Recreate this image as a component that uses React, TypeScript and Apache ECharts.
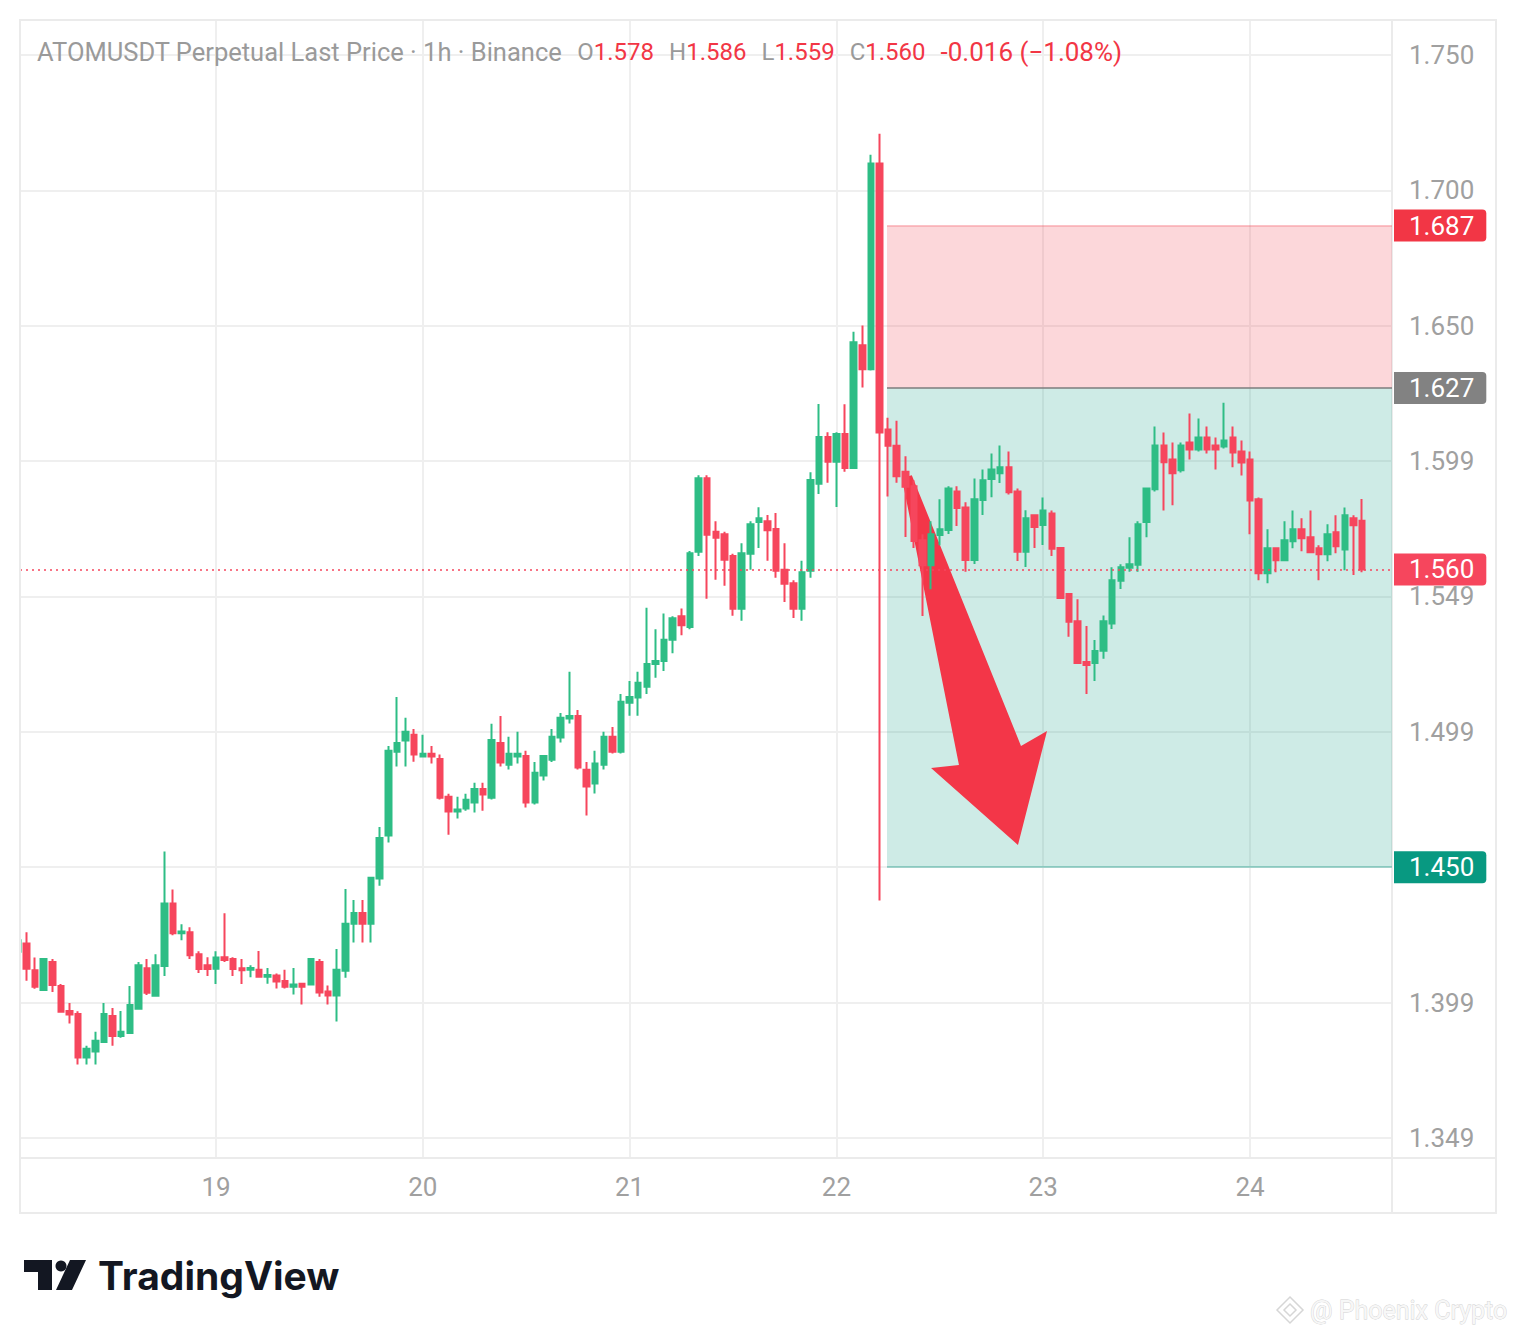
import React, { useEffect, useRef } from 'react';
import * as echarts from 'echarts';

// hour offset (relative to the 19th, 00:00) of the first candle
const START_HOUR = -23;

const opens = [
  1.4188, 1.4218, 1.4120, 1.4047, 1.4150, 1.4061, 1.3969, 1.3958, 1.3797, 1.3819, 1.3855, 1.3951, 1.3877, 1.3888, 1.3977, 1.4127, 1.4025, 1.4135, 1.4366, 1.4256, 1.4260, 1.4179, 1.4138,
  1.4125, 1.4168, 1.4161, 1.4127, 1.4121, 1.4121, 1.4096, 1.4100, 1.4080, 1.4059, 1.4070, 1.4067, 1.4150, 1.4041, 1.4026, 1.4118, 1.4291, 1.4331, 1.4291, 1.4458, 1.4617, 1.4927, 1.4968, 1.4989,
  1.4909, 1.4919, 1.4900, 1.4760, 1.4706, 1.4717, 1.4739, 1.4789, 1.4757, 1.4959, 1.4879, 1.4909, 1.4911, 1.4739, 1.4839, 1.4897, 1.4979, 1.5049, 1.5059, 1.4860, 1.4809, 1.4879, 1.4982, 1.4927,
  1.5108, 1.5127, 1.5167, 1.5251, 1.5262, 1.5340, 1.5427, 1.5387, 1.5665, 1.5937, 1.5739, 1.5730, 1.5650, 1.5455, 1.5658, 1.5775, 1.5778, 1.5749, 1.5599, 1.5549, 1.5455, 1.5595, 1.5916, 1.6089,
  1.5998, 1.6100, 1.5975, 1.6428, 1.6339, 1.7099, 1.6117, 1.6057, 1.5961, 1.5907, 1.5708, 1.5615, 1.5727, 1.5746, 1.5888, 1.5829, 1.5635, 1.5856, 1.5934, 1.5955, 1.5977, 1.5888, 1.5665, 1.5800,
  1.5764, 1.5807, 1.5679, 1.5509, 1.5409, 1.5258, 1.5254, 1.5300, 1.5400, 1.5558, 1.5606, 1.5617, 1.5775, 1.5896, 1.6058, 1.6006, 1.5966, 1.6069, 1.6043, 1.6087, 1.6058, 1.6054, 1.6087, 1.6036,
  1.6006, 1.5859, 1.5586, 1.5678, 1.5634, 1.5704, 1.5748, 1.5719, 1.5678, 1.5656, 1.5737, 1.5674, 1.5789, 1.578
];
const closes = [
  1.4230, 1.4125, 1.4059, 1.4161, 1.4065, 1.3966, 1.3956, 1.3797, 1.3830, 1.3859, 1.3958, 1.3877, 1.3892, 1.3991, 1.4138, 1.4036, 1.4138, 1.4366, 1.4256, 1.4263, 1.4175, 1.4124, 1.4124,
  1.4167, 1.4157, 1.4124, 1.4120, 1.4128, 1.4096, 1.4102, 1.4078, 1.4059, 1.4067, 1.4059, 1.4161, 1.4037, 1.4026, 1.4121, 1.4291, 1.4331, 1.4291, 1.4461, 1.4608, 1.4930, 1.4959, 1.5000, 1.4916,
  1.4919, 1.4909, 1.4757, 1.4706, 1.4713, 1.4749, 1.4789, 1.4769, 1.4970, 1.4887, 1.4919, 1.4919, 1.4739, 1.4849, 1.4911, 1.4982, 1.5052, 1.5059, 1.4868, 1.4798, 1.4883, 1.4982, 1.4927, 1.5111,
  1.5129, 1.5181, 1.5251, 1.5262, 1.5340, 1.5420, 1.5394, 1.5660, 1.5937, 1.5728, 1.5717, 1.5636, 1.5455, 1.5660, 1.5767, 1.5789, 1.5745, 1.5595, 1.5547, 1.5455, 1.5590, 1.5930, 1.6089, 1.5998,
  1.6100, 1.5975, 1.6439, 1.6339, 1.7099, 1.6106, 1.6057, 1.5944, 1.5905, 1.5705, 1.5615, 1.5730, 1.5748, 1.5899, 1.5827, 1.5635, 1.5859, 1.5929, 1.5969, 1.5977, 1.5885, 1.5665, 1.5789, 1.5757,
  1.5818, 1.5676, 1.5494, 1.5407, 1.5254, 1.5247, 1.5299, 1.5409, 1.5560, 1.5608, 1.5619, 1.5767, 1.5899, 1.6058, 1.5996, 1.5955, 1.6058, 1.6043, 1.6087, 1.6043, 1.6043, 1.6076, 1.6032, 1.5995,
  1.5855, 1.5586, 1.5678, 1.5634, 1.5708, 1.5748, 1.5715, 1.5663, 1.5656, 1.5730, 1.5686, 1.5800, 1.5763, 1.560
];
const lows = [
  1.4180, 1.4081, 1.4051, 1.4045, 1.4039, 1.3964, 1.3923, 1.3771, 1.3771, 1.3771, 1.3853, 1.3841, 1.3870, 1.3886, 1.3975, 1.4028, 1.4025, 1.4098, 1.4249, 1.4230, 1.4161, 1.4109, 1.4098,
  1.4069, 1.4150, 1.4098, 1.4069, 1.4094, 1.4092, 1.4070, 1.4052, 1.4052, 1.4030, 1.3993, 1.4063, 1.4022, 1.3993, 1.3930, 1.4092, 1.4222, 1.4222, 1.4222, 1.4432, 1.4591, 1.4872, 1.4872, 1.4890,
  1.4909, 1.4883, 1.4750, 1.4620, 1.4680, 1.4709, 1.4702, 1.4709, 1.4750, 1.4872, 1.4861, 1.4883, 1.4721, 1.4732, 1.4820, 1.4889, 1.4961, 1.5031, 1.4861, 1.4691, 1.4772, 1.4861, 1.4920, 1.4920,
  1.5060, 1.5060, 1.5140, 1.5200, 1.5225, 1.5290, 1.5357, 1.5379, 1.5650, 1.5492, 1.5562, 1.5540, 1.5429, 1.5410, 1.5599, 1.5679, 1.5632, 1.5569, 1.5480, 1.5421, 1.5410, 1.5569, 1.5879, 1.5920,
  1.5831, 1.5961, 1.5973, 1.6272, 1.6335, 1.4377, 1.5869, 1.5920, 1.5720, 1.5679, 1.5428, 1.5527, 1.5689, 1.5731, 1.5760, 1.5591, 1.5620, 1.5801, 1.5867, 1.5919, 1.5877, 1.5631, 1.5609, 1.5679,
  1.5690, 1.5650, 1.5492, 1.5351, 1.5251, 1.5140, 1.5188, 1.5270, 1.5380, 1.5528, 1.5591, 1.5591, 1.5719, 1.5888, 1.5818, 1.5837, 1.5958, 1.6006, 1.6036, 1.6028, 1.5969, 1.6047, 1.5977, 1.5947,
  1.5730, 1.5560, 1.5549, 1.5590, 1.5630, 1.5678, 1.5667, 1.5661, 1.5560, 1.5630, 1.5660, 1.5597, 1.5579, 1.559
];
const highs = [
  1.4235, 1.4260, 1.4167, 1.4163, 1.4161, 1.4069, 1.3999, 1.3968, 1.3841, 1.3892, 1.3999, 1.3980, 1.3969, 1.4061, 1.4150, 1.4161, 1.4179, 1.4558, 1.4418, 1.4289, 1.4278, 1.4190, 1.4168,
  1.4190, 1.4330, 1.4168, 1.4161, 1.4138, 1.4191, 1.4128, 1.4108, 1.4121, 1.4128, 1.4072, 1.4163, 1.4161, 1.4063, 1.4198, 1.4420, 1.4379, 1.4379, 1.4465, 1.4649, 1.4948, 1.5129, 1.5052, 1.5011,
  1.4989, 1.4948, 1.4916, 1.4771, 1.4760, 1.4771, 1.4812, 1.4812, 1.5030, 1.5059, 1.4982, 1.5000, 1.4930, 1.4889, 1.4913, 1.5011, 1.5070, 1.5222, 1.5081, 1.4889, 1.4930, 1.5000, 1.5018, 1.5140,
  1.5188, 1.5222, 1.5458, 1.5379, 1.5437, 1.5427, 1.5456, 1.5668, 1.5948, 1.5948, 1.5778, 1.5739, 1.5658, 1.5697, 1.5778, 1.5830, 1.5801, 1.5808, 1.5697, 1.5560, 1.5632, 1.5959, 1.6211, 1.6107,
  1.6107, 1.6210, 1.6478, 1.6501, 1.7132, 1.7209, 1.6160, 1.6149, 1.6018, 1.5929, 1.5730, 1.5778, 1.5859, 1.5907, 1.5907, 1.5848, 1.5936, 1.5969, 1.6028, 1.6058, 1.6036, 1.5899, 1.5819, 1.5802,
  1.5866, 1.5818, 1.5681, 1.5512, 1.5490, 1.5391, 1.5339, 1.5430, 1.5608, 1.5619, 1.5719, 1.5778, 1.5901, 1.6128, 1.6106, 1.6069, 1.6069, 1.6176, 1.6157, 1.6128, 1.6087, 1.6216, 1.6128, 1.6076,
  1.6036, 1.5866, 1.5748, 1.5680, 1.5778, 1.5818, 1.5789, 1.5818, 1.5689, 1.5767, 1.5800, 1.5829, 1.5800, 1.586
];

const dayTicks = [0, 24, 48, 72, 96, 120];
const dayLabels = ['19', '20', '21', '22', '23', '24'];
const priceTicks = [1.35, 1.4, 1.45, 1.5, 1.55, 1.6, 1.65, 1.7, 1.75];
const priceLabels = ['1.349', '1.399', '1.450', '1.499', '1.549', '1.599', '1.650', '1.700', '1.750'];

// short position drawing
const stopPrice = 1.687;
const entryPrice = 1.627;
const targetPrice = 1.45;
const lastPrice = 1.56;
const positionStartHour = 77.87;

// arrow drawing (hour, price)
const arrowHours = [79.6, 80.75, 93.42, 96.44, 93.07, 82.98, 86.22];
const arrowPrices = [1.5938, 1.5948, 1.4948, 1.5003, 1.4582, 1.4867, 1.4878];

const headerSymbol = 'ATOMUSDT Perpetual Last Price · 1h · Binance';
const headerChange = '-0.016 (−1.08%)';

const X_MIN = -22.746;
const X_MAX = 136.475;
const Y_MIN = 1.34261;
const Y_MAX = 1.76293;

const FONT = 'Roboto, "Noto Sans", sans-serif';
const AXIS_TEXT = '#a0a0a0';
const GRID = '#efefef';
const FRAME = '#ebebeb';
const UP = '#2EBD85';
const DOWN = '#F6465D';

function badge(bg: string, text: string) {
  return {
    show: true,
    position: 'end',
    distance: 2,
    formatter: text,
    color: '#ffffff',
    backgroundColor: bg,
    padding: [3, 12, 3, 15],
    borderRadius: [0, 4, 4, 0],
    fontSize: 26,
    lineHeight: 26,
    fontFamily: FONT,
  };
}

export default function App() {
  const ref = useRef<HTMLDivElement>(null);

  useEffect(() => {
    if (!ref.current) return;
    const chart = echarts.init(ref.current, null, { renderer: 'svg' });

    const candles = opens.map((o, i) => [START_HOUR + i, o, closes[i], lows[i], highs[i]]);
    const n = opens.length;
    const f3 = (v: number) => v.toFixed(3);

    const headerText =
      `{g|${headerSymbol}}{sp| }{k|O}{r|${f3(opens[n - 1])}}{sp| }{k|H}{r|${f3(highs[n - 1])}}` +
      `{sp| }{k|L}{r|${f3(lows[n - 1])}}{sp| }{k|C}{r|${f3(closes[n - 1])}}{sp| }{c|${headerChange}}`;

    const option: any = {
      animation: false,
      backgroundColor: '#ffffff',
      grid: { left: 20, right: 124, top: 20, bottom: 176, containLabel: false },
      xAxis: {
        type: 'value',
        min: X_MIN,
        max: X_MAX,
        axisLine: { show: false },
        axisTick: { show: false, customValues: dayTicks },
        axisLabel: {
          customValues: dayTicks,
          formatter: (v: number) => dayLabels[dayTicks.indexOf(Math.round(v))],
          color: AXIS_TEXT,
          fontSize: 26,
          fontFamily: FONT,
          margin: 16,
        },
        splitLine: { show: true, lineStyle: { color: GRID, width: 2 } },
      },
      yAxis: {
        type: 'value',
        position: 'right',
        min: Y_MIN,
        max: Y_MAX,
        axisLine: { show: false },
        axisTick: { show: false, customValues: priceTicks },
        axisLabel: {
          customValues: priceTicks,
          formatter: (v: number) => {
            const i = priceTicks.findIndex((t) => Math.abs(t - v) < 1e-6);
            return i >= 0 ? priceLabels[i] : '';
          },
          color: AXIS_TEXT,
          fontSize: 26,
          fontFamily: FONT,
          margin: 17,
        },
        splitLine: { show: true, lineStyle: { color: GRID, width: 2 } },
      },
      graphic: [
        // white cover left of the plot (hides the part of the first candle outside the pane)
        { type: 'rect', z: 100, silent: true, shape: { x: 0, y: 20, width: 20, height: 1140 }, style: { fill: '#ffffff' } },
        {
          type: 'rect',
          z: 101,
          silent: true,
          shape: { x: 20, y: 20, width: 1476, height: 1193 },
          style: { fill: 'none', stroke: FRAME, lineWidth: 2 },
        },
        { type: 'line', z: 101, silent: true, shape: { x1: 20, y1: 1158, x2: 1496, y2: 1158 }, style: { stroke: FRAME, lineWidth: 2 } },
        { type: 'line', z: 1, silent: true, shape: { x1: 1392, y1: 20, x2: 1392, y2: 1213 }, style: { stroke: FRAME, lineWidth: 2 } },
        {
          type: 'text',
          x: 37,
          y: 52,
          z: 10,
          style: {
            text: headerText,
            verticalAlign: 'middle',
            align: 'left',
            rich: {
              g: { fill: '#9a9a9a', fontSize: 25.5, fontFamily: FONT },
              k: { fill: '#9a9a9a', fontSize: 24, fontFamily: FONT },
              r: { fill: '#F23645', fontSize: 24, fontFamily: FONT },
              c: { fill: '#F23645', fontSize: 26, fontFamily: FONT },
              sp: { width: 15, fontSize: 24, fontFamily: FONT },
            },
          },
        },
        // TradingView logo
        {
          type: 'group',
          children: [
            { type: 'rect', shape: { x: 24, y: 1260, width: 28, height: 12 }, style: { fill: '#131722' } },
            { type: 'rect', shape: { x: 38, y: 1260, width: 14, height: 30 }, style: { fill: '#131722' } },
            { type: 'circle', shape: { cx: 61, cy: 1266, r: 5.5 }, style: { fill: '#131722' } },
            { type: 'polygon', shape: { points: [[70, 1260], [86, 1260], [72, 1290], [56, 1290]] }, style: { fill: '#131722' } },
            {
              type: 'text',
              x: 98,
              y: 1275,
              style: { text: 'TradingView', fill: '#131722', font: 'bold 39px Inter, Roboto, sans-serif', verticalAlign: 'middle' },
            },
          ],
        },
        // watermark
        {
          type: 'group',
          children: [
            { type: 'polygon', shape: { points: [[1290, 1297], [1303, 1310], [1290, 1323], [1277, 1310]] }, style: { fill: 'none', stroke: '#d6d6d6', lineWidth: 1.5 } },
            { type: 'polygon', shape: { points: [[1290, 1304], [1296, 1310], [1290, 1316], [1284, 1310]] }, style: { fill: 'none', stroke: '#d6d6d6', lineWidth: 1.5 } },
            {
              type: 'text',
              x: 1310,
              y: 1310,
              style: {
                text: '@ Phoenix Crypto',
                fill: '#f7f7f7',
                stroke: '#d0d0d0',
                lineWidth: 0.8,
                font: '25px Roboto, sans-serif',
                verticalAlign: 'middle',
              },
            },
          ],
        },
      ],
      series: [
        {
          name: 'position',
          type: 'line',
          data: [],
          z: 1,
          silent: true,
          markArea: {
            silent: true,
            label: { show: false },
            data: [
              [
                { coord: [positionStartHour, stopPrice], itemStyle: { color: 'rgba(242,54,69,0.2)' } },
                { coord: [X_MAX, entryPrice] },
              ],
              [
                { coord: [positionStartHour, entryPrice], itemStyle: { color: 'rgba(8,153,129,0.2)' } },
                { coord: [X_MAX, targetPrice] },
              ],
            ],
          },
          markLine: {
            silent: true,
            symbol: ['none', 'none'],
            data: [
              [
                { coord: [positionStartHour, stopPrice], lineStyle: { color: 'rgba(242,54,69,0.3)', width: 1.5, type: 'solid' }, label: badge('#F23645', f3(stopPrice)) },
                { coord: [X_MAX, stopPrice] },
              ],
              [
                { coord: [positionStartHour, entryPrice], lineStyle: { color: '#7d7d7d', width: 1.5, type: 'solid' }, label: badge('#828282', f3(entryPrice)) },
                { coord: [X_MAX, entryPrice] },
              ],
              [
                { coord: [positionStartHour, targetPrice], lineStyle: { color: 'rgba(8,153,129,0.4)', width: 1.5, type: 'solid' }, label: badge('#089981', f3(targetPrice)) },
                { coord: [X_MAX, targetPrice] },
              ],
            ],
          },
        },
        {
          name: 'arrow',
          type: 'custom',
          z: 2,
          silent: true,
          data: [[arrowHours[0], arrowPrices[0]]],
          renderItem: (_params: any, api: any) => ({
            type: 'polygon',
            shape: { points: arrowHours.map((h, i) => api.coord([h, arrowPrices[i]])) },
            style: { fill: '#F33648' },
          }),
        },
        {
          name: 'ATOMUSDT',
          type: 'candlestick',
          z: 3,
          data: candles,
          barWidth: 6,
          itemStyle: {
            color: UP,
            color0: DOWN,
            borderColor: UP,
            borderColor0: DOWN,
            borderWidth: 2,
          },
        },
        {
          name: 'last',
          type: 'line',
          data: [],
          z: 5,
          silent: true,
          markLine: {
            silent: true,
            symbol: ['none', 'none'],
            data: [
              [
                { coord: [X_MIN, lastPrice], lineStyle: { color: DOWN, width: 1.5, type: [2, 4] }, label: badge('#F6465D', f3(lastPrice)) },
                { coord: [X_MAX, lastPrice] },
              ],
            ],
          },
        },
      ],
    };

    chart.setOption(option);
    return () => chart.dispose();
  }, []);

  return (
    <div
      ref={ref}
      style={{ position: 'absolute', left: 0, top: 0, width: 1516, height: 1334, background: '#ffffff' }}
    />
  );
}
